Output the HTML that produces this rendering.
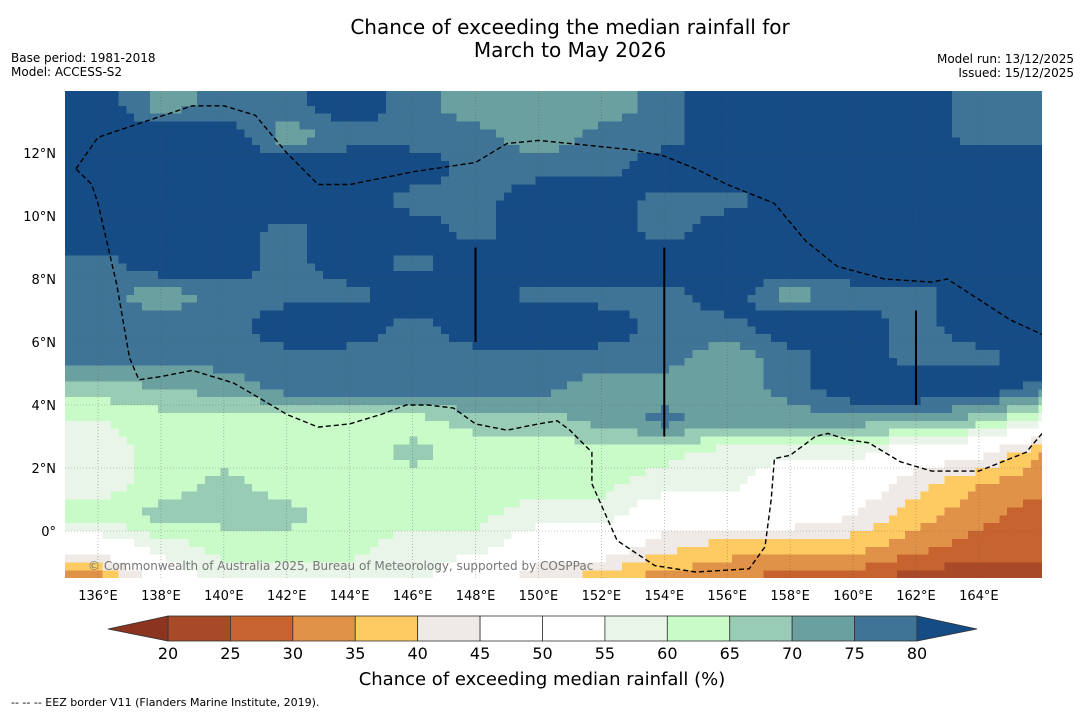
<!DOCTYPE html>
<html><head><meta charset="utf-8">
<style>
body{margin:0;background:#fff;font-family:"Liberation Sans","DejaVu Sans",sans-serif;}
svg text{font-family:"DejaVu Sans","Liberation Sans",sans-serif;}
</style></head>
<body>
<svg id="chart" width="1085" height="713" xmlns="http://www.w3.org/2000/svg">
<rect width="1085" height="713" fill="#fff"/>
<text x="570" y="34" font-size="20" text-anchor="middle">Chance of exceeding the median rainfall for</text>
<text x="570" y="57" font-size="20" text-anchor="middle">March to May 2026</text>
<text x="11" y="62" font-size="12">Base period: 1981-2018</text>
<text x="11" y="76" font-size="12">Model: ACCESS-S2</text>
<text x="1074" y="63" font-size="12" text-anchor="end">Model run: 13/12/2025</text>
<text x="1074" y="77" font-size="12" text-anchor="end">Issued: 15/12/2025</text>
<defs><clipPath id="mapclip"><rect x="65" y="91" width="977" height="487"/></clipPath></defs>
<g id="map" clip-path="url(#mapclip)" shape-rendering="crispEdges"></g>
<g id="overlay" clip-path="url(#mapclip)"></g>
<g id="axes"></g>
<g id="cbar"></g>
<text x="542" y="685" font-size="18" text-anchor="middle">Chance of exceeding median rainfall (%)</text>
<text x="11" y="706" font-size="11">--  --  -- EEZ border V11 (Flanders Marine Institute, 2019).</text>
</svg>
<script>
const lonCenters=[136,138,140,142,144,146,148,150,152,154,156,158,160,162,164,166];
const latCenters=[13.5,12.5,11.5,10.5,9.5,8.5,7.5,6.5,5.5,4.5,3.5,2.5,1.5,0.5,-0.5,-1.5];
const row0=[85,72,77,77,85,77,72,72,72,77,85,85,85,85,77,77];
const row1=[85,85,85,72,77,77,77,72,77,77,85,85,85,85,77,77];
const row2=[85,85,85,85,85,85,77,77,77,85,85,85,85,85,85,85];
const row3=[85,85,85,85,85,77,77,85,85,77,77,85,85,85,85,85];
const row4=[85,85,85,77,85,85,77,85,85,77,85,85,85,85,85,85];
const row5=[77,85,85,77,85,77,85,85,85,85,85,85,85,85,85,85];
const row6=[77,72,77,77,77,85,85,77,77,77,85,72,77,77,85,85];
const row7=[77,77,77,85,85,77,85,85,85,77,77,85,85,77,85,85];
const row8=[77,77,77,77,77,77,77,77,77,77,72,77,85,77,77,85];
const row9=[67,70,72,77,77,77,77,77,72,72,72,77,85,85,85,77];
const row10=[60,62,62,62,62,62,67,67,72,77,72,72,72,72,67,57];
const row11=[57,62,62,62,62,67,62,62,62,62,57,57,57,50,47,35];
const row12=[57,62,67,62,62,62,62,62,62,57,57,50,50,42,35,32];
const row13=[62,67,67,67,62,62,62,57,57,50,50,50,45,37,32,27];
const row14=[50,57,62,62,62,57,57,50,50,42,37,37,37,32,27,27];
const row15=[32,50,57,57,57,57,50,42,37,32,32,27,27,22,22,22];
const grid=[row0,row1,row2,row3,row4,row5,row6,row7,row8,row9,row10,row11,row12,row13,row14,row15];
const levels=[20,25,30,35,40,45,50,55,60,65,70,75,80];
const lonTicks=[136,138,140,142,144,146,148,150,152,154,156,158,160,162,164];
const latTicks=[0,2,4,6,8,10,12];
const eez=[[135.3,11.5],[136,12.5],[137.5,13],[139,13.5],[140,13.5],[141,13.2],[142,12],[143,11],[144,11],[146,11.4],[148,11.7],[149,12.3],[150,12.4],[151,12.3],[153,12.1],[154,11.9],[155,11.5],[156,11],[157.5,10.4],[158.5,9.2],[159.5,8.4],[161,8],[162.5,7.9],[163,8],[165,6.7],[166.1,6.2],[166.2,4.5],[166.1,3.2],[165.5,2.5],[164,1.9],[162.5,1.9],[161.5,2.2],[160.5,2.8],[159.8,2.9],[159.2,3.1],[158.8,3],[158,2.4],[157.5,2.3],[157.4,1],[157.2,-0.5],[156.7,-1.2],[155,-1.3],[153.7,-1.1],[152.5,-0.3],[151.7,1.5],[151.7,2.5],[151,3.2],[150.6,3.5],[150,3.4],[149,3.2],[148,3.4],[147.3,3.9],[146.5,4],[145.8,4],[145,3.7],[144,3.4],[143,3.3],[142,3.7],[141,4.3],[140.3,4.7],[139,5.1],[138,4.9],[137.3,4.8],[137,5.5],[136.6,7.8],[136,10.4],[135.8,11],[135.3,11.5]];
const colors=['#8b3520','#a84a28','#c6632f','#e09248','#fdcb62','#efeae5','#ffffff','#ffffff','#e8f5e8','#c8fbc8','#99ccb5','#6aa0a0','#3f7497','#154c85'];
const NS='http://www.w3.org/2000/svg';
const xS=lon=>98+(lon-136)*31.46;
const yS=lat=>531-lat*31.5;
function colorFor(v){let i=0;while(i<levels.length&&v>=levels[i])i++;return colors[i];}
function mk(tag,attrs,parent){const e=document.createElementNS(NS,tag);for(const k in attrs)e.setAttribute(k,attrs[k]);parent.appendChild(e);return e;}
function sample(lon,lat){
  let fc=(lon-lonCenters[0])/2; fc=Math.max(0,Math.min(lonCenters.length-1,fc));
  let fr=(latCenters[0]-lat)/1; fr=Math.max(0,Math.min(latCenters.length-1,fr));
  const c0=Math.floor(fc),r0=Math.floor(fr),c1=Math.min(c0+1,lonCenters.length-1),r1=Math.min(r0+1,latCenters.length-1);
  const tx=fc-c0,ty=fr-r0;
  const a=grid[r0][c0]*(1-tx)+grid[r0][c1]*tx, b=grid[r1][c0]*(1-tx)+grid[r1][c1]*tx;
  return a*(1-ty)+b*ty;
}
const map=document.getElementById('map');
const step=0.25;
for(let lat=14;lat>-1.6;lat-=step){
  let lon=134.9;
  while(lon<166.2){
    const col=colorFor(sample(lon+step/2,lat-step/2));
    let end=lon+step;
    while(end<166.2&&colorFor(sample(end+step/2,lat-step/2))===col)end+=step;
    const r=mk('rect',{x:xS(lon).toFixed(1),y:yS(lat).toFixed(1),width:(xS(end)-xS(lon)+0.6).toFixed(1),height:(31.5*step+0.6).toFixed(1),fill:col},map);
    
    
    lon=end;
  }
}
const ov=document.getElementById('overlay');
lonTicks.forEach(l=>{const ln=mk('line',{x1:xS(l),x2:xS(l),y1:91,y2:578,stroke:'#555','stroke-width':0.6,'stroke-dasharray':'1,2','stroke-opacity':0.6},ov);
});
latTicks.forEach(l=>{const ln=mk('line',{x1:65,x2:1042,y1:yS(l),y2:yS(l),stroke:'#555','stroke-width':0.6,'stroke-dasharray':'1,2','stroke-opacity':0.6},ov);
});
[[148,6,9],[154,3,9],[162,4,7]].forEach(s=>{const ln=mk('line',{x1:xS(s[0]),x2:xS(s[0]),y1:yS(s[2]),y2:yS(s[1]),stroke:'#000','stroke-width':2},ov);
});
const p=mk('path',{d:'M'+eez.map(q=>xS(q[0]).toFixed(1)+','+yS(q[1]).toFixed(1)).join(' L'),fill:'none',stroke:'#000','stroke-width':1.4,'stroke-dasharray':'5,3'},ov);

const cp=mk('text',{x:88,y:570,'font-size':12,fill:'#777'},ov);cp.textContent='© Commonwealth of Australia 2025, Bureau of Meteorology, supported by COSPPac';

const axes=document.getElementById('axes');
lonTicks.forEach(l=>{const t=mk('text',{x:xS(l),y:600,'font-size':13,'text-anchor':'middle'},axes);t.textContent=l+'°E';
});
latTicks.forEach(l=>{const t=mk('text',{x:56,y:yS(l)+5,'font-size':13,'text-anchor':'end'},axes);t.textContent=l===0?'0°':l+'°N';
});
const cb=document.getElementById('cbar');
const cx=v=>168+(v-20)*(749/60);
for(let i=0;i<levels.length-1;i++){const r=mk('rect',{x:cx(levels[i]),y:616,width:cx(levels[i+1])-cx(levels[i]),height:25,fill:colors[i+1],stroke:'#333','stroke-width':0.8},cb);
}
const tl=mk('polygon',{points:`108,629 ${cx(20)},616 ${cx(20)},641`,fill:colors[0],stroke:'#333','stroke-width':0.8},cb);

const tr=mk('polygon',{points:`977,629 ${cx(80)},616 ${cx(80)},641`,fill:colors[13],stroke:'#333','stroke-width':0.8},cb);

levels.forEach(v=>{const t=mk('text',{x:cx(v),y:659,'font-size':16,'text-anchor':'middle'},cb);t.textContent=v;
});
</script>
</body></html>
